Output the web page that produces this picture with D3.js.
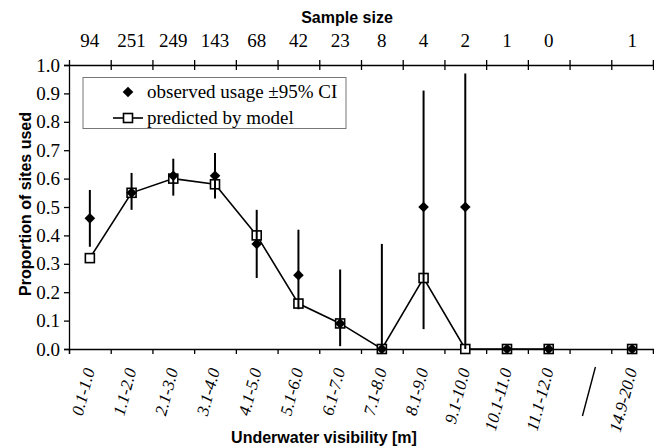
<!DOCTYPE html>
<html>
<head>
<meta charset="utf-8">
<script src="https://cdn.jsdelivr.net/npm/d3@7"></script>
<style>
    body { margin: 0; background: #fff; }
    .serif { font-family: "Liberation Serif", "Times New Roman", serif; fill: #000; }
    .bold-title { font-family: "Liberation Sans", Arial, sans-serif; font-weight: bold; font-size: 16px; fill: #000; }
</style>
</head>
<body>
<div id="chart"></div>
<script>
// Visibility classes, "gap" marks the axis break between 11.1-12.0 and 14.9-20.0
const categories = ["0.1-1.0", "1.1-2.0", "2.1-3.0", "3.1-4.0", "4.1-5.0", "5.1-6.0", "6.1-7.0",
    "7.1-8.0", "8.1-9.0", "9.1-10.0", "10.1-11.0", "11.1-12.0", "gap", "14.9-20.0"];
const sampleSize = [94, 251, 249, 143, 68, 42, 23, 8, 4, 2, 1, 0, null, 1];
const observed = [0.46, 0.55, 0.61, 0.61, 0.37, 0.26, 0.09, 0.00, 0.50, 0.50, 0.00, 0.00, null, 0.00];
const ciLow = [0.36, 0.49, 0.54, 0.53, 0.25, 0.14, 0.01, 0.00, 0.07, 0.00, 0.00, 0.00, null, 0.00];
const ciHigh = [0.56, 0.62, 0.67, 0.69, 0.49, 0.42, 0.28, 0.37, 0.91, 0.97, 0.00, 0.00, null, 0.00];
const predicted = [0.32, 0.55, 0.60, 0.58, 0.40, 0.16, 0.09, 0.00, 0.25, 0.00, 0.00, 0.00, null, 0.00];
const yTicks = [0, 0.1, 0.2, 0.3, 0.4, 0.5, 0.6, 0.7, 0.8, 0.9, 1.0];

const config = {
    width: 654,
    height: 447,
    left: 69,
    right: 653,
    top: 65,
    bottom: 349
};

const rows = categories.map((c, i) => ({
    cat: c,
    n: sampleSize[i],
    obs: observed[i],
    lo: ciLow[i],
    hi: ciHigh[i],
    pred: predicted[i]
}));

const svg = d3.select('#chart').append('svg')
    .attr('width', config.width)
    .attr('height', config.height);

// Scales
const xScale = d3.scaleBand()
    .domain(categories)
    .range([config.left, config.right])
    .padding(0);

const edgeScale = d3.scaleLinear()
    .domain([0, categories.length])
    .range([config.left, config.right]);

const yScale = d3.scaleLinear()
    .domain([0, 1])
    .range([config.bottom, config.top]);

const cx = d => xScale(d.cat) + xScale.bandwidth() / 2;

// Axes
const edgeTicks = d3.range(0, categories.length + 1);

svg.append('g')
    .attr('class', 'axis x-bottom')
    .attr('transform', `translate(0,${config.bottom})`)
    .call(d3.axisBottom(edgeScale).tickValues(edgeTicks).tickSize(5).tickFormat(''));

svg.append('g')
    .attr('class', 'axis x-top')
    .attr('transform', `translate(0,${config.top})`)
    .call(d3.axisTop(edgeScale).tickValues(edgeTicks.slice(1)).tickSize(5).tickFormat(''))
    .call(g => g.append('g')
        .call(d3.axisBottom(edgeScale).tickValues(edgeTicks.slice(1)).tickSize(5).tickFormat(''))
        .call(h => h.select('.domain').remove()));

svg.append('g')
    .attr('class', 'axis y-axis')
    .attr('transform', `translate(${config.left},0)`)
    .call(d3.axisLeft(yScale).tickValues(yTicks).tickSize(5).tickPadding(4).tickFormat(d3.format('.1f')))
    .call(g => g.selectAll('text')
        .attr('class', 'serif')
        .attr('font-size', 19)
        .attr('font-family', null));

svg.selectAll('.axis path, .axis line')
    .attr('stroke', '#000')
    .attr('stroke-width', 1.3);

// Category labels (rotated italic), break mark in the gap slot
svg.append('g')
    .selectAll('text')
    .data(rows.filter(d => d.cat !== 'gap'))
    .join('text')
    .attr('class', 'serif')
    .attr('font-size', 17)
    .attr('font-style', 'italic')
    .attr('text-anchor', 'end')
    .attr('transform', d => `translate(${cx(d) + 5},${config.bottom + 21}) rotate(-75)`)
    .text(d => d.cat);

const gapX = xScale('gap') + xScale.bandwidth() / 2;
svg.append('line')
    .attr('x1', gapX - 8)
    .attr('y1', 416)
    .attr('x2', gapX + 5)
    .attr('y2', 367)
    .attr('stroke', '#000')
    .attr('stroke-width', 1.4);

// Sample sizes along the top
svg.append('g')
    .selectAll('text')
    .data(rows.filter(d => d.n !== null))
    .join('text')
    .attr('class', 'serif')
    .attr('font-size', 19)
    .attr('text-anchor', 'middle')
    .attr('x', cx)
    .attr('y', 47)
    .text(d => d.n);

svg.append('text')
    .attr('class', 'bold-title')
    .attr('text-anchor', 'middle')
    .attr('x', 347)
    .attr('y', 23)
    .text('Sample size');

svg.append('text')
    .attr('class', 'bold-title')
    .attr('text-anchor', 'middle')
    .attr('x', 324)
    .attr('y', 443)
    .text('Underwater visibility [m]');

svg.append('text')
    .attr('class', 'bold-title')
    .attr('text-anchor', 'middle')
    .attr('transform', 'translate(31,204) rotate(-90)')
    .text('Proportion of sites used');

// Model line
const valid = rows.filter(d => d.cat !== 'gap');
const line = d3.line()
    .defined(d => d.pred !== null)
    .x(cx)
    .y(d => yScale(d.pred));

svg.append('path')
    .datum(rows)
    .attr('d', line)
    .attr('fill', 'none')
    .attr('stroke', '#000')
    .attr('stroke-width', 1.6);

// Predicted squares
const sq = 9;
svg.append('g')
    .selectAll('rect')
    .data(valid)
    .join('rect')
    .attr('x', d => cx(d) - sq / 2)
    .attr('y', d => yScale(d.pred) - sq / 2)
    .attr('width', sq)
    .attr('height', sq)
    .attr('fill', '#fff')
    .attr('stroke', '#000')
    .attr('stroke-width', 1.6);

// 95% CI bars
svg.append('g')
    .selectAll('line')
    .data(valid.filter(d => d.hi > d.lo))
    .join('line')
    .attr('x1', cx)
    .attr('x2', cx)
    .attr('y1', d => yScale(d.lo))
    .attr('y2', d => yScale(d.hi))
    .attr('stroke', '#000')
    .attr('stroke-width', 2);

// Observed diamonds
const diamond = d3.symbol().type(d3.symbolDiamond2).size(72);
svg.append('g')
    .selectAll('path')
    .data(valid)
    .join('path')
    .attr('d', diamond)
    .attr('transform', d => `translate(${cx(d)},${yScale(d.obs)})`)
    .attr('fill', '#000');

// Legend
const legend = svg.append('g').attr('class', 'legend');
legend.append('rect')
    .attr('x', 83)
    .attr('y', 77.5)
    .attr('width', 263)
    .attr('height', 51)
    .attr('fill', '#fff')
    .attr('stroke', '#777')
    .attr('stroke-width', 1);

legend.append('path')
    .attr('d', diamond)
    .attr('transform', 'translate(128,92)')
    .attr('fill', '#000');
legend.append('text')
    .attr('class', 'serif')
    .attr('font-size', 19)
    .attr('x', 147)
    .attr('y', 98)
    .text('observed usage ±95% CI');

legend.append('line')
    .attr('x1', 113)
    .attr('x2', 143)
    .attr('y1', 118)
    .attr('y2', 118)
    .attr('stroke', '#000')
    .attr('stroke-width', 1.6);
legend.append('rect')
    .attr('x', 128 - sq / 2)
    .attr('y', 118 - sq / 2)
    .attr('width', sq)
    .attr('height', sq)
    .attr('fill', '#fff')
    .attr('stroke', '#000')
    .attr('stroke-width', 1.6);
legend.append('text')
    .attr('class', 'serif')
    .attr('font-size', 19)
    .attr('x', 147)
    .attr('y', 124)
    .text('predicted by model');
</script>
</body>
</html>
